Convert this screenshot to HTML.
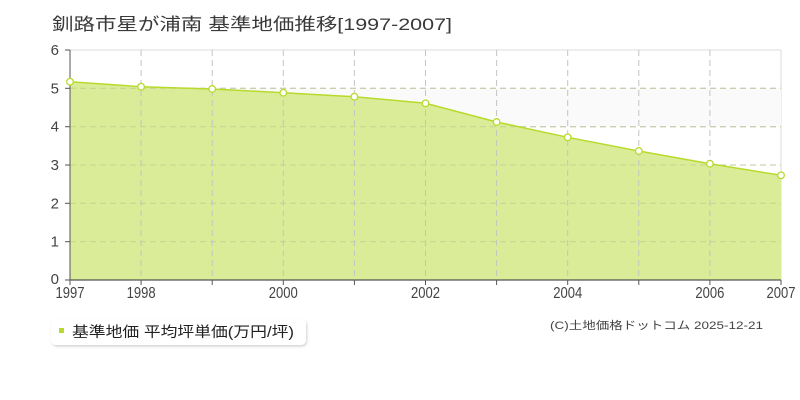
<!DOCTYPE html>
<html><head><meta charset="utf-8"><style>
html,body{margin:0;padding:0;background:#fff;}
svg{display:block;font-family:"Liberation Sans","Noto Sans CJK JP",sans-serif;}
</style></head><body>
<svg width="800" height="400" viewBox="0 0 800 400" xmlns="http://www.w3.org/2000/svg">
<defs>
<filter id="sh" x="-10%" y="-30%" width="120%" height="170%"><feDropShadow dx="1" dy="1.5" stdDeviation="1.2" flood-color="#000" flood-opacity="0.18"/></filter>
</defs>
<text x="52" y="30" font-size="17" fill="#3a3a3a" textLength="400" lengthAdjust="spacingAndGlyphs">釧路市星が浦南 基準地価推移[1997-2007]</text>
<!-- plot bg -->
<rect x="70" y="50" width="711" height="230" fill="#fff" stroke="#ddd" stroke-width="1"/>
<rect x="70" y="88.3" width="711" height="38.4" fill="#fbfafb"/>
<!-- horizontal grid -->
<g stroke="#c8c8c8" stroke-width="1" stroke-dasharray="6,4">
<line x1="70" y1="88.3" x2="781" y2="88.3"/>
<line x1="70" y1="126.7" x2="781" y2="126.7"/>
<line x1="70" y1="165" x2="781" y2="165"/>
<line x1="70" y1="203.3" x2="781" y2="203.3"/>
<line x1="70" y1="241.7" x2="781" y2="241.7"/>
</g>
<!-- area -->
<polygon fill="#d9eb93" fill-opacity="0.95" points="70,280 70,81.7 141.1,86.7 212.2,89 283.3,92.7 354.4,96.7 425.5,103.3 496.6,122 567.7,137.3 638.8,151 709.9,163.7 781,175.3 781,280"/>
<!-- grid over area -->
<g stroke="#bcc98a" stroke-opacity="0.7" stroke-width="1" stroke-dasharray="6,4">
<line x1="70" y1="88.3" x2="781" y2="88.3"/>
<line x1="70" y1="126.7" x2="781" y2="126.7"/>
<line x1="70" y1="165" x2="781" y2="165"/>
<line x1="70" y1="203.3" x2="781" y2="203.3"/>
<line x1="70" y1="241.7" x2="781" y2="241.7"/>
</g>
<g stroke="#c4c4c4" stroke-width="1" stroke-dasharray="6,4">
<line x1="141.1" y1="50" x2="141.1" y2="280"/>
<line x1="212.2" y1="50" x2="212.2" y2="280"/>
<line x1="283.3" y1="50" x2="283.3" y2="280"/>
<line x1="354.4" y1="50" x2="354.4" y2="280"/>
<line x1="425.5" y1="50" x2="425.5" y2="280"/>
<line x1="496.6" y1="50" x2="496.6" y2="280"/>
<line x1="567.7" y1="50" x2="567.7" y2="280"/>
<line x1="638.8" y1="50" x2="638.8" y2="280"/>
<line x1="709.9" y1="50" x2="709.9" y2="280"/>
</g>
<polyline fill="none" stroke="#b7da2c" stroke-width="1.5" points="70,81.7 141.1,86.7 212.2,89 283.3,92.7 354.4,96.7 425.5,103.3 496.6,122 567.7,137.3 638.8,151 709.9,163.7 781,175.3"/>
<!-- axes -->
<line x1="70" y1="50" x2="70" y2="280" stroke="#555" stroke-width="1"/>
<line x1="70" y1="280" x2="781" y2="280" stroke="#555" stroke-width="1.2"/>
<g stroke="#555" stroke-width="1">
<line x1="65" y1="50" x2="70" y2="50"/><line x1="65" y1="88.3" x2="70" y2="88.3"/><line x1="65" y1="126.7" x2="70" y2="126.7"/>
<line x1="65" y1="165" x2="70" y2="165"/><line x1="65" y1="203.3" x2="70" y2="203.3"/><line x1="65" y1="241.7" x2="70" y2="241.7"/><line x1="65" y1="280" x2="70" y2="280"/>
<line x1="70" y1="280" x2="70" y2="285"/><line x1="141.1" y1="280" x2="141.1" y2="285"/><line x1="212.2" y1="280" x2="212.2" y2="285"/><line x1="283.3" y1="280" x2="283.3" y2="285"/>
<line x1="354.4" y1="280" x2="354.4" y2="285"/><line x1="425.5" y1="280" x2="425.5" y2="285"/><line x1="496.6" y1="280" x2="496.6" y2="285"/><line x1="567.7" y1="280" x2="567.7" y2="285"/>
<line x1="638.8" y1="280" x2="638.8" y2="285"/><line x1="709.9" y1="280" x2="709.9" y2="285"/><line x1="781" y1="280" x2="781" y2="285"/>
</g>
<!-- markers -->
<g fill="#fff" stroke="#b7da2c" stroke-width="1.3">
<circle cx="70" cy="81.7" r="3.3"/><circle cx="141.1" cy="86.7" r="3.3"/><circle cx="212.2" cy="89" r="3.3"/><circle cx="283.3" cy="92.7" r="3.3"/>
<circle cx="354.4" cy="96.7" r="3.3"/><circle cx="425.5" cy="103.3" r="3.3"/><circle cx="496.6" cy="122" r="3.3"/><circle cx="567.7" cy="137.3" r="3.3"/>
<circle cx="638.8" cy="151" r="3.3"/><circle cx="709.9" cy="163.7" r="3.3"/><circle cx="781" cy="175.3" r="3.3"/>
</g>
<!-- y labels -->
<g font-size="15" fill="#444" text-anchor="end">
<text x="59" y="55">6</text><text x="59" y="93.3">5</text><text x="59" y="131.7">4</text><text x="59" y="170">3</text>
<text x="59" y="208.3">2</text><text x="59" y="246.7">1</text><text x="59" y="284">0</text>
</g>
<!-- x labels -->
<g font-size="16" fill="#444" text-anchor="middle">
<text x="70" y="298" textLength="29" lengthAdjust="spacingAndGlyphs">1997</text>
<text x="141.1" y="298" textLength="29" lengthAdjust="spacingAndGlyphs">1998</text>
<text x="283.3" y="298" textLength="29" lengthAdjust="spacingAndGlyphs">2000</text>
<text x="425.5" y="298" textLength="29" lengthAdjust="spacingAndGlyphs">2002</text>
<text x="567.7" y="298" textLength="29" lengthAdjust="spacingAndGlyphs">2004</text>
<text x="709.9" y="298" textLength="29" lengthAdjust="spacingAndGlyphs">2006</text>
<text x="781" y="298" textLength="29" lengthAdjust="spacingAndGlyphs">2007</text>
</g>
<!-- legend -->
<rect x="51" y="319" width="255" height="26" rx="5" ry="5" fill="#fff" filter="url(#sh)"/>
<rect x="59" y="328" width="5" height="5" fill="#b7da2c"/>
<text x="72" y="337" font-size="14.5" fill="#222" textLength="222" lengthAdjust="spacingAndGlyphs">基準地価 平均坪単価(万円/坪)</text>
<!-- copyright -->
<text x="550" y="329" font-size="11" fill="#444" textLength="213" lengthAdjust="spacingAndGlyphs">(C)土地価格ドットコム 2025-12-21</text>
</svg>
</body></html>
